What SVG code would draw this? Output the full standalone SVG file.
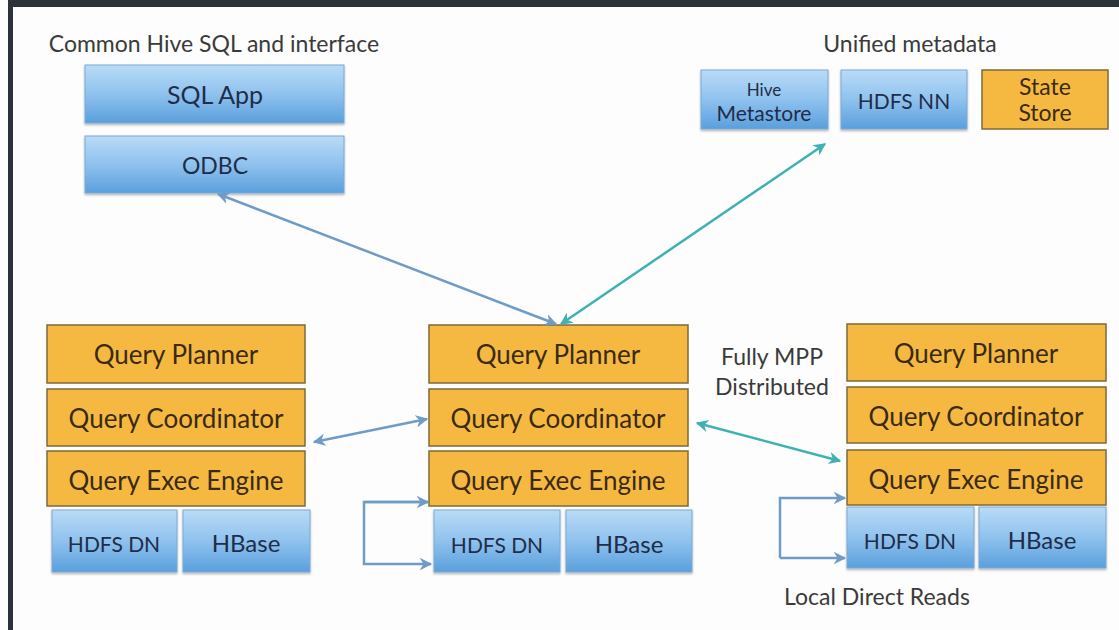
<svg xmlns="http://www.w3.org/2000/svg" width="1119" height="630" viewBox="0 0 1119 630">
<defs>
<linearGradient id="blueG" x1="0" y1="0" x2="0" y2="1">
<stop offset="0" stop-color="#b9dbf6"/>
<stop offset="0.5" stop-color="#8fc2ee"/>
<stop offset="1" stop-color="#5a9fdc"/>
</linearGradient>
<marker id="ahB" viewBox="0 0 10 10" refX="9" refY="5" markerWidth="5" markerHeight="5" orient="auto-start-reverse" markerUnits="strokeWidth">
<path d="M0,0 L10,5 L0,10 L3,5 Z" fill="#6f9cc6"/>
</marker>
<marker id="ahT" viewBox="0 0 10 10" refX="9" refY="5" markerWidth="5" markerHeight="5" orient="auto-start-reverse" markerUnits="strokeWidth">
<path d="M0,0 L10,5 L0,10 L3,5 Z" fill="#3fb1b3"/>
</marker>
<filter id="sh" x="-5%" y="-5%" width="110%" height="120%">
<feDropShadow dx="0" dy="1.5" stdDeviation="1" flood-color="#000" flood-opacity="0.3"/>
</filter>
</defs>
<style>
.blue{fill:url(#blueG);stroke:#7aa9d4;stroke-width:1;filter:url(#sh)}
.orange{fill:#f5b942;stroke:#7d6a3a;stroke-width:1.5}
.t{font-family:Lato,"Liberation Sans",sans-serif;text-anchor:middle}
.ot{fill:#3a2a12}
.btx{fill:#1f2d48}
.q{font-size:26px}
.lbl{font-family:Lato,"Liberation Sans",sans-serif;fill:#3a3a3a;text-anchor:middle;font-size:23px}
.cB{fill:none;stroke:#6f9cc6;stroke-width:2.5}
.cT{fill:none;stroke:#3fb1b3;stroke-width:2.5}
</style>
<rect x="0" y="0" width="1119" height="630" fill="#fdfdfd"/>
<rect x="8" y="0" width="1111" height="7" fill="#2b323a"/>
<rect x="8" y="0" width="5" height="630" fill="#2b323a"/>

<text class="lbl" x="214" y="52">Common Hive SQL and interface</text>
<text class="lbl" x="910" y="52">Unified metadata</text>

<g id="sqlapp"><rect class="blue" x="85" y="65" width="259" height="58"/><text class="t btx" x="215" y="104" font-size="25">SQL App</text></g>
<g id="odbc"><rect class="blue" x="85" y="136" width="259" height="57"/><text class="t btx" x="215" y="174" font-size="23">ODBC</text></g>

<g id="hivemeta"><rect class="blue" x="701" y="70" width="127" height="59"/><text class="t btx" x="764" y="96" font-size="17">Hive</text><text class="t btx" x="764" y="121" font-size="21">Metastore</text></g>
<g id="hdfsnn"><rect class="blue" x="841" y="70" width="126" height="59"/><text class="t btx" x="904" y="109" font-size="21">HDFS NN</text></g>
<g id="statestore"><rect class="orange" x="982" y="70" width="126" height="59"/><text class="t ot" x="1045" y="95" font-size="23">State</text><text class="t ot" x="1045" y="121" font-size="23">Store</text></g>

<g id="left-planner"><rect class="orange" x="47" y="325" width="258" height="58"/><text class="t ot q" x="176" y="364">Query Planner</text></g>
<g id="left-coord"><rect class="orange" x="47" y="389" width="258" height="57"/><text class="t ot q" x="176" y="428">Query Coordinator</text></g>
<g id="left-exec"><rect class="orange" x="47" y="451" width="258" height="55"/><text class="t ot q" x="176" y="490">Query Exec Engine</text></g>
<g id="left-hdfsdn"><rect class="blue" x="52" y="510" width="125" height="62"/><text class="t btx" x="114" y="552" font-size="21">HDFS DN</text></g>
<g id="left-hbase"><rect class="blue" x="183" y="510" width="127" height="62"/><text class="t btx" x="246" y="552" font-size="24">HBase</text></g>

<g id="mid-planner"><rect class="orange" x="429" y="325" width="259" height="58"/><text class="t ot q" x="558" y="364">Query Planner</text></g>
<g id="mid-coord"><rect class="orange" x="429" y="389" width="259" height="57"/><text class="t ot q" x="558" y="428">Query Coordinator</text></g>
<g id="mid-exec"><rect class="orange" x="429" y="451" width="259" height="55"/><text class="t ot q" x="558" y="490">Query Exec Engine</text></g>
<g id="mid-hdfsdn"><rect class="blue" x="434" y="510" width="126" height="62"/><text class="t btx" x="497" y="553" font-size="21">HDFS DN</text></g>
<g id="mid-hbase"><rect class="blue" x="566" y="510" width="126" height="62"/><text class="t btx" x="629" y="553" font-size="24">HBase</text></g>

<g id="right-planner"><rect class="orange" x="847" y="324" width="259" height="57"/><text class="t ot q" x="976" y="363">Query Planner</text></g>
<g id="right-coord"><rect class="orange" x="847" y="387" width="259" height="56"/><text class="t ot q" x="976" y="426">Query Coordinator</text></g>
<g id="right-exec"><rect class="orange" x="847" y="450" width="259" height="55"/><text class="t ot q" x="976" y="489">Query Exec Engine</text></g>
<g id="right-hdfsdn"><rect class="blue" x="847" y="507" width="127" height="61"/><text class="t btx" x="910" y="549" font-size="21">HDFS DN</text></g>
<g id="right-hbase"><rect class="blue" x="979" y="507" width="127" height="61"/><text class="t btx" x="1042" y="549" font-size="24">HBase</text></g>

<text class="lbl" x="772" y="365" font-size="21">Fully MPP</text>
<text class="lbl" x="772" y="395" font-size="21">Distributed</text>
<text class="lbl" x="877" y="605">Local Direct Reads</text>

<g id="connectors">
<line class="cB" x1="218" y1="194" x2="556" y2="324" marker-start="url(#ahB)" marker-end="url(#ahB)"/>
<line class="cT" x1="825" y1="144" x2="561" y2="324" marker-start="url(#ahT)" marker-end="url(#ahT)"/>
<line class="cB" x1="314" y1="442" x2="427" y2="419" marker-start="url(#ahB)" marker-end="url(#ahB)"/>
<line class="cT" x1="697" y1="423" x2="840" y2="461" marker-start="url(#ahT)" marker-end="url(#ahT)"/>
<polyline class="cB" points="428,502 364,502 364,564 431,564" marker-end="url(#ahB)"/>
<line class="cB" x1="364" y1="502" x2="428" y2="502" marker-end="url(#ahB)"/>
<polyline class="cB" points="780,558 780,498 845,498" marker-end="url(#ahB)"/>
<line class="cB" x1="780" y1="558" x2="845" y2="558" marker-end="url(#ahB)"/>
</g>
</svg>
